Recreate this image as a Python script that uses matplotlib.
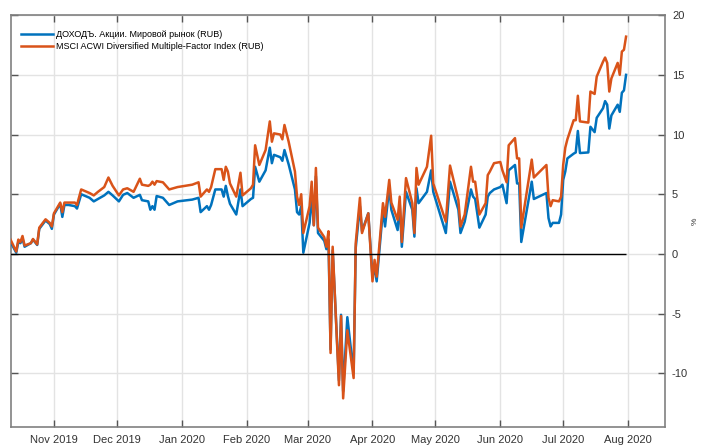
import matplotlib
matplotlib.use("Agg")
import matplotlib.pyplot as plt
import matplotlib.dates as mdates
import pandas as pd

plt.rcParams['font.family'] = ['Liberation Sans', 'DejaVu Sans']
plt.rcParams['axes.unicode_minus'] = False

dates = [
    "2019-10-11", "2019-10-14", "2019-10-15", "2019-10-16", "2019-10-17", "2019-10-18",
    "2019-10-21", "2019-10-22", "2019-10-24", "2019-10-25", "2019-10-28", "2019-10-30",
    "2019-10-31", "2019-11-01", "2019-11-04", "2019-11-05", "2019-11-06", "2019-11-08",
    "2019-11-11", "2019-11-12", "2019-11-14", "2019-11-18", "2019-11-20", "2019-11-22",
    "2019-11-25", "2019-11-27", "2019-11-29", "2019-12-02", "2019-12-04", "2019-12-06",
    "2019-12-09", "2019-12-12", "2019-12-13", "2019-12-16", "2019-12-17", "2019-12-18",
    "2019-12-19", "2019-12-20", "2019-12-23", "2019-12-26", "2019-12-30", "2020-01-06",
    "2020-01-09", "2020-01-10", "2020-01-13", "2020-01-14", "2020-01-15", "2020-01-17",
    "2020-01-20", "2020-01-21", "2020-01-22", "2020-01-23", "2020-01-24", "2020-01-27",
    "2020-01-29", "2020-01-30", "2020-02-03", "2020-02-04", "2020-02-05", "2020-02-07",
    "2020-02-10", "2020-02-12", "2020-02-13", "2020-02-14", "2020-02-17", "2020-02-18",
    "2020-02-19", "2020-02-21", "2020-02-24", "2020-02-25", "2020-02-26", "2020-02-27",
    "2020-02-28", "2020-03-02", "2020-03-03", "2020-03-04", "2020-03-05", "2020-03-06",
    "2020-03-09", "2020-03-10", "2020-03-11", "2020-03-12", "2020-03-13", "2020-03-16",
    "2020-03-17", "2020-03-18", "2020-03-20", "2020-03-23", "2020-03-24", "2020-03-26",
    "2020-03-27", "2020-03-30", "2020-04-01", "2020-04-02", "2020-04-03", "2020-04-06",
    "2020-04-07", "2020-04-09", "2020-04-10", "2020-04-13", "2020-04-14", "2020-04-15",
    "2020-04-17", "2020-04-20", "2020-04-21", "2020-04-22", "2020-04-23", "2020-04-27",
    "2020-04-29", "2020-04-30", "2020-05-06", "2020-05-08", "2020-05-12", "2020-05-13",
    "2020-05-15", "2020-05-18", "2020-05-19", "2020-05-20", "2020-05-22", "2020-05-25",
    "2020-05-26", "2020-05-27", "2020-05-29", "2020-06-01", "2020-06-02", "2020-06-04",
    "2020-06-05", "2020-06-08", "2020-06-09", "2020-06-10", "2020-06-11", "2020-06-16",
    "2020-06-17", "2020-06-23", "2020-06-24", "2020-06-25", "2020-06-26", "2020-06-29",
    "2020-06-30", "2020-07-01", "2020-07-02", "2020-07-03", "2020-07-06", "2020-07-07",
    "2020-07-08", "2020-07-09", "2020-07-13", "2020-07-14", "2020-07-16", "2020-07-17",
    "2020-07-20", "2020-07-21", "2020-07-22", "2020-07-23", "2020-07-24", "2020-07-27",
    "2020-07-28", "2020-07-29", "2020-07-30", "2020-07-31",
]

fund = [
    1.1, 0.1, 1.0, 0.9, 1.3, 0.6,
    0.9, 1.2, 0.75, 2.1, 2.8, 2.5,
    2.1, 3.3, 4.2, 3.1, 4.1, 4.1,
    4.0, 3.8, 5.0, 4.7, 4.4, 4.6,
    4.9, 5.2, 4.9, 4.4, 4.95, 5.1,
    4.7, 4.95, 4.5, 4.4, 3.7, 4.0,
    3.7, 4.85, 4.7, 4.1, 4.4, 4.55,
    4.7, 3.5, 4.0, 3.7, 4.1, 5.4,
    5.4, 4.8, 5.7, 4.85, 4.2, 3.3,
    5.4, 4.0, 4.6, 4.7, 7.3, 6.05,
    7.0, 8.9, 7.6, 8.3, 8.1, 7.8,
    8.7, 7.5, 5.4, 3.5, 3.3, 4.0,
    0.1, 2.6, 4.9, 2.4, 6.5, 1.75,
    1.1, 0.4, 1.2, -8.0, 0.3, -10.6,
    -5.1, -11.5, -5.3, -10.0, 0.5, 4.0,
    1.9, 3.4, -1.9, -1.2, -2.3, 3.7,
    2.3, 5.6, 3.7, 2.0, 4.25, 0.6,
    5.2, 3.7, 1.45, 5.5, 4.25, 5.2,
    7.0, 5.2, 1.75, 6.05, 3.7, 1.75,
    2.7, 5.4, 4.8, 4.6, 2.2, 3.3,
    4.8, 5.1, 5.4, 5.6, 5.8, 4.25,
    7.0, 7.45, 5.9, 5.9, 1.0, 6.05,
    4.6, 5.1, 3.0, 2.3, 2.6, 2.6,
    3.3, 6.2, 6.9, 8.0, 8.4, 8.5,
    10.3, 8.45, 8.5, 10.65, 10.2, 11.4,
    12.2, 12.8, 12.5, 10.5, 11.6, 12.5,
    11.9, 13.5, 13.7, 15.0,
]

index = [
    1.3, 0.2, 1.2, 1.0, 1.5, 0.7,
    0.9, 1.25, 0.8, 2.2, 2.9, 2.6,
    2.3, 3.4, 4.3, 3.5, 4.3, 4.3,
    4.3, 4.1, 5.4, 5.1, 4.9, 5.2,
    5.6, 6.4, 5.7, 4.9, 5.4, 5.5,
    5.2, 6.3, 5.8, 5.7, 5.8, 6.05,
    5.8, 6.1, 6.0, 5.4, 5.6, 5.8,
    6.0, 4.8, 5.4, 5.2, 5.6, 7.1,
    7.1, 6.2, 7.3, 6.9, 5.9, 4.8,
    6.8, 4.9, 5.5, 5.8, 9.1, 7.45,
    8.7, 11.1, 9.4, 10.1, 10.0, 9.6,
    10.8, 9.4, 6.9, 4.8, 4.1, 5.0,
    1.75, 4.0, 6.05, 2.4, 7.2, 2.2,
    1.4, 0.6, 1.9, -8.3, 0.6, -11.0,
    -5.2, -12.1, -6.4, -10.4, 0.9, 4.7,
    1.75, 3.4, -2.3, -0.5, -1.9, 4.25,
    3.1, 6.2, 4.3, 2.85, 4.8, 1.0,
    6.35, 4.25, 1.75, 7.2, 5.8, 7.3,
    9.9, 5.9, 2.7, 7.4, 4.5, 2.3,
    3.3, 7.3, 6.05, 6.05, 3.3, 4.25,
    6.6, 6.9, 7.6, 7.7, 7.0, 6.0,
    9.1, 9.7, 8.0, 8.0, 2.2, 7.9,
    6.4, 7.45, 4.7, 4.0, 4.5, 4.4,
    4.8, 7.45, 8.9, 9.6, 11.2, 11.2,
    13.25, 11.1, 11.0, 13.6, 13.4, 14.85,
    16.1, 16.45, 16.0, 13.6, 14.7, 16.0,
    15.0, 16.95, 17.1, 18.2,
]

labels = ["ДОХОДЪ. Акции. Мировой рынок (RUB)",
          "MSCI ACWI Diversified Multiple-Factor Index (RUB)"]

x = pd.to_datetime(dates)

fig = plt.figure(figsize=(7.04, 4.46), dpi=100)
ax = fig.add_axes([0.0156, 0.0426, 0.929, 0.9234])

ax.plot(x, fund, color='#0072BD', lw=1.8, label=labels[0], zorder=3)
ax.plot(x, index, color='#D95319', lw=1.8, label=labels[1], zorder=4)
ax.hlines(0, x[0], x[-1], color='black', lw=1.0, zorder=5)

ax.set_xlim(pd.Timestamp("2019-10-11 12:00"), pd.Timestamp("2020-08-18 14:00"))
ax.set_ylim(-14.5, 20)
ax.set_yticks([-10, -5, 0, 5, 10, 15, 20])

ax.xaxis.set_major_locator(mdates.MonthLocator())
ax.xaxis.set_major_formatter(mdates.DateFormatter('%b %Y'))

ax.grid(True, color='#e3e3e3', lw=1.0, zorder=0)
ax.set_axisbelow(True)
for s in ax.spines.values():
    s.set_color('#808080')
    s.set_linewidth(1.2)

ax.yaxis.tick_right()
ax.yaxis.set_label_position('right')
ax.tick_params(axis='both', direction='in', length=5, width=1, color='#555555',
               labelsize=8, labelcolor='#333333', top=True, left=True, right=True,
               bottom=True, labelleft=False, labelright=True)
ax.tick_params(axis='x', pad=6)
ax.tick_params(axis='y', pad=5)
ax.set_ylabel('%', fontsize=6, color='#333333', va='center')
ax.yaxis.set_label_coords(1.047, 0.5)

ax.legend(loc='upper left', bbox_to_anchor=(0.005, 0.98), frameon=False, fontsize=6.5,
          handlelength=3.6, handletextpad=0.3, labelspacing=0.35, borderaxespad=0.3)

fig.savefig('out.png', dpi=100)
